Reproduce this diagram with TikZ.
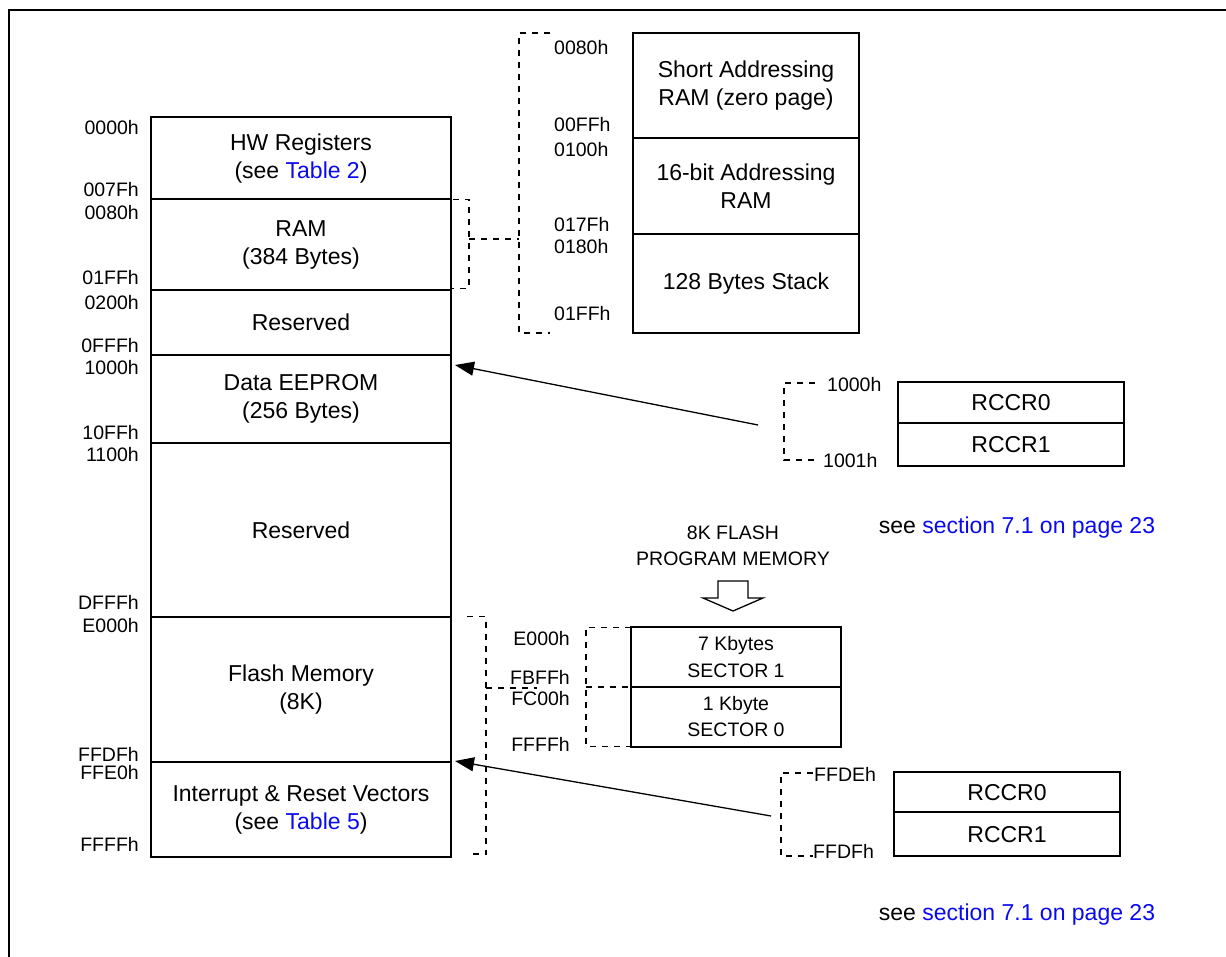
\documentclass[tikz,border=0pt]{standalone}
\usepackage{fontspec}
\setmainfont{Liberation Sans}
\usetikzlibrary{arrows.meta}
\definecolor{linkblue}{RGB}{10,10,240}
\newcommand{\bigtxt}{\fontsize{23}{28}\selectfont}
\newcommand{\smalltxt}{\fontsize{19.5}{26.5}\selectfont}

\begin{document}
\begin{tikzpicture}[x=1pt,y=-1pt,
  cell/.style={draw, line width=2pt, anchor=north west, inner sep=0pt, outer sep=0pt, align=center, font=\bigtxt},
  addr/.style={inner sep=0pt, font=\smalltxt},
  brk/.style={line width=1.6pt, dash pattern=on 6pt off 6pt},
  ptr/.style={line width=1.3pt, -{Triangle[length=19pt,width=14pt]}}]
\useasboundingbox (0,0) rectangle (1226,957);

% Frame
\draw[line width=2.2pt] (9,957) -- (9,10) -- (1226,10);

% Memory map
\node[cell, minimum width=300pt, minimum height=82.5pt] (hwreg) at (151,117) {HW Registers\\(see \textcolor{linkblue}{Table 2})};
\node[cell, minimum width=300pt, minimum height=90.2pt] (ram) at (151,199.5) {RAM\\(384 Bytes)};
\node[cell, minimum width=300pt, minimum height=65.3pt] (resv1) at (151,289.7) {Reserved};
\node[cell, minimum width=300pt, minimum height=88.3pt] (eeprom) at (151,355) {Data EEPROM\\(256 Bytes)};
\node[cell, minimum width=300pt, minimum height=173.4pt] (resv2) at (151,443.3) {Reserved};
\node[cell, minimum width=300pt, minimum height=145.3pt] (flash) at (151,616.7) {Flash Memory\\(8K)};
\node[cell, minimum width=300pt, minimum height=95.3pt] (vectors) at (151,762) {Interrupt \& Reset Vectors\\(see \textcolor{linkblue}{Table 5})};

\node[addr, anchor=east] (a0) at (139,128) {0000h};
\node[addr, anchor=east] (a1) at (139,190) {007Fh};
\node[addr, anchor=east] (a2) at (139,213) {0080h};
\node[addr, anchor=east] (a3) at (139,278) {01FFh};
\node[addr, anchor=east] (a4) at (139,303) {0200h};
\node[addr, anchor=east] (a5) at (139,346) {0FFFh};
\node[addr, anchor=east] (a6) at (139,368) {1000h};
\node[addr, anchor=east] (a7) at (139,433) {10FFh};
\node[addr, anchor=east] (a8) at (139,455) {1100h};
\node[addr, anchor=east] (a9) at (139,602) {DFFFh};
\node[addr, anchor=east] (a10) at (139,626) {E000h};
\node[addr, anchor=east] (a11) at (139,754) {FFDFh};
\node[addr, anchor=east] (a12) at (139,773) {FFE0h};
\node[addr, anchor=east] (a13) at (139,844) {FFFFh};

% RAM detail
\draw[brk] (453,199.5) -- (469,199.5) -- (469,288.5) -- (451,288.5);
\draw[brk] (469,239) -- (519,239);
\draw[brk] (550,33) -- (519,33) -- (519,333) -- (550,333);
\node[cell, minimum width=226pt, minimum height=104.4pt] (zpage) at (633,33.3) {Short Addressing\\RAM (zero page)};
\node[cell, minimum width=226pt, minimum height=96pt] (wram) at (633,137.7) {16-bit Addressing\\RAM};
\node[cell, minimum width=226pt, minimum height=99pt] (stack) at (633,233.7) {128 Bytes Stack};
\node[addr, anchor=west] (r0) at (554,48) {0080h};
\node[addr, anchor=west] (r1) at (554,125) {00FFh};
\node[addr, anchor=west] (r2) at (554,150) {0100h};
\node[addr, anchor=west] (r3) at (554,225) {017Fh};
\node[addr, anchor=west] (r4) at (554,247) {0180h};
\node[addr, anchor=west] (r5) at (554,314) {01FFh};

% RCCR in data EEPROM
\draw[brk] (815,383) -- (784,383) -- (784,460) -- (815,460);
\node[addr, anchor=west] (e0) at (827,385) {1000h};
\node[addr, anchor=west] (e1) at (823,461) {1001h};
\node[cell, minimum width=226pt, minimum height=40.7pt] (rccra) at (898,382) {RCCR0};
\node[cell, minimum width=226pt, minimum height=43.3pt] (rccrb) at (898,422.7) {RCCR1};
\node[font=\bigtxt] (seea) at (1017,528) {see \textcolor{linkblue}{section 7.1 on page 23}};
\coordinate (srca) at (758,425);
\coordinate (tipa) at (455,365);
\draw[ptr] (srca) -- (tipa);

% Flash sectors
\node[font=\smalltxt, align=center] (fprog) at (733,546) {8K FLASH\\PROGRAM MEMORY};
\draw[line width=1.3pt] (718,581) -- (748,581) -- (748,598) -- (763,598) -- (733,611) -- (703,598) -- (718,598) -- cycle;
\draw[brk] (467,616.5) -- (486,616.5) -- (486,854) -- (467,854);
\draw[brk] (486,688) -- (537,688);
\draw[brk] (631,627.3) -- (586,627.3) -- (586,746.5) -- (631,746.5);
\draw[brk] (586,687) -- (631,687);
\node[cell, minimum width=210pt, minimum height=59.4pt, font=\smalltxt] (sect1) at (631,627.3) {7 Kbytes\\SECTOR 1};
\node[cell, minimum width=210pt, minimum height=60pt, font=\smalltxt] (sect0) at (631,686.7) {1 Kbyte\\SECTOR 0};
\node[addr, anchor=east] (s0) at (570,639) {E000h};
\node[addr, anchor=east] (s1) at (570,677) {FBFFh};
\node[addr, anchor=east] (s2) at (570,699) {FC00h};
\node[addr, anchor=east] (s3) at (570,744) {FFFFh};

% RCCR in vectors
\draw[brk] (813,773) -- (781,773) -- (781,855.7) -- (813,855.7);
\node[addr, anchor=west] (v0) at (814,774) {FFDEh};
\node[addr, anchor=west] (v1) at (813,851) {FFDFh};
\node[cell, minimum width=226pt, minimum height=40.3pt] (rccrc) at (894,772) {RCCR0};
\node[cell, minimum width=226pt, minimum height=43.7pt] (rccrd) at (894,812.3) {RCCR1};
\node[font=\bigtxt] (seeb) at (1017,915) {see \textcolor{linkblue}{section 7.1 on page 23}};
\coordinate (srcb) at (771,816);
\coordinate (tipb) at (455,761);
\draw[ptr] (srcb) -- (tipb);
\end{tikzpicture}
\end{document}
